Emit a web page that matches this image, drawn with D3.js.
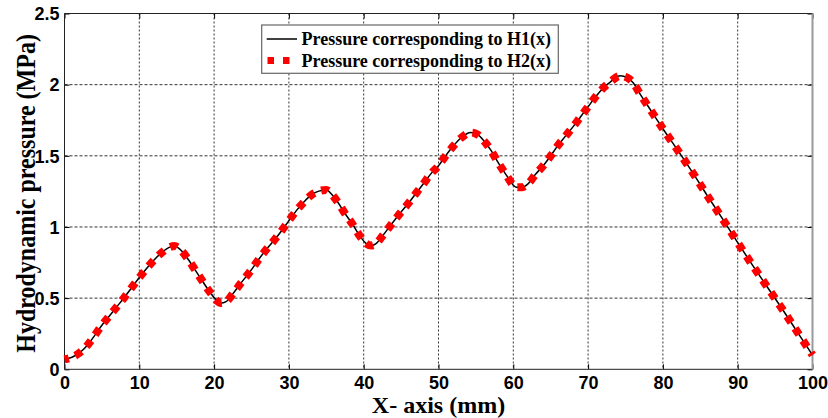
<!DOCTYPE html>
<html>
<head>
<meta charset="utf-8">
<script src="https://cdn.jsdelivr.net/npm/d3@7"></script>
<style>
  body { margin: 0; background: #fff; }
  svg { display: block; font-family: "Liberation Serif", "Times New Roman", serif; }
  .tick-label { font-size: 18px; font-weight: bold; fill: #000; }
  .axis-label { font-size: 24px; font-weight: bold; fill: #000; }
  .legend-text { font-size: 18px; font-weight: bold; fill: #000; }
</style>
</head>
<body>
<div id="chart"></div>
<script>
// values
const xValues = [0, 1, 2, 3, 4, 5, 6, 7, 8, 9, 10, 11, 12, 13, 14, 14.7, 15.5, 16.5, 17.5, 18.5, 19.5, 20.3, 20.9, 21.6, 22.5, 23.5,
  25, 26, 27, 28, 29, 30, 31, 32, 33, 34, 35, 35.8, 36.5, 37.5, 38.5, 39.5, 40.3, 41, 41.7, 42.5, 43.5,
  45, 46, 47, 48, 49, 50, 51, 52, 53, 54.3, 55.2, 56, 57, 58, 59, 60.4, 61.2, 62, 63,
  64, 65, 66, 67, 68, 69, 70, 71, 72, 73, 74.3, 75.2, 76, 77, 78, 80, 82, 84, 86, 88, 90, 92, 94, 96, 98, 100];
const pressureH1 = [0.07, 0.085, 0.115, 0.165, 0.235, 0.31, 0.375, 0.44, 0.505, 0.575, 0.645, 0.71, 0.77, 0.82, 0.857, 0.866, 0.84, 0.775, 0.695, 0.615, 0.538, 0.485, 0.465, 0.475, 0.53, 0.6,
  0.7, 0.775, 0.843, 0.905, 0.972, 1.045, 1.115, 1.175, 1.225, 1.252, 1.26, 1.225, 1.177, 1.095, 1.02, 0.935, 0.885, 0.87, 0.885, 0.936, 1.005,
  1.105, 1.168, 1.237, 1.305, 1.375, 1.43, 1.503, 1.57, 1.625, 1.664, 1.65, 1.61, 1.54, 1.45, 1.37, 1.28, 1.28, 1.305, 1.372,
  1.43, 1.5, 1.575, 1.64, 1.705, 1.775, 1.845, 1.915, 1.975, 2.02, 2.062, 2.05, 2.015, 1.93, 1.85, 1.69, 1.538, 1.38, 1.215, 1.055, 0.89, 0.73, 0.575, 0.42, 0.26, 0.1];
// the two curves lie on top of each other
const pressureH2 = pressureH1.slice();

const xTicks = [0, 10, 20, 30, 40, 50, 60, 70, 80, 90, 100];
const yTicks = [0, 0.5, 1, 1.5, 2, 2.5];
const yTickLabels = ["0", "0.5", "1", "1.5", "2", "2.5"];
const legendLabels = ["Pressure corresponding to H1(x)", "Pressure corresponding to H2(x)"];

const width = 828, height = 418;
const margin = { left: 64.5, right: 15.5, top: 13.5, bottom: 48.7 };
const plotW = width - margin.left - margin.right;
const plotH = height - margin.top - margin.bottom;

const svg = d3.select('#chart').append('svg')
  .attr('width', width)
  .attr('height', height);

const g = svg.append('g')
  .attr('transform', `translate(${margin.left},${margin.top})`);

const xScale = d3.scaleLinear().domain([0, 100]).range([0, plotW]);
const yScale = d3.scaleLinear().domain([0, 2.5]).range([plotH, 0]);

// grid
g.selectAll('.vgrid')
  .data(xTicks.slice(1, -1))
  .join('line')
  .attr('x1', d => xScale(d)).attr('x2', d => xScale(d))
  .attr('y1', 0).attr('y2', plotH)
  .attr('stroke', '#333').attr('stroke-width', 1)
  .attr('stroke-dasharray', '2,2');

g.selectAll('.hgrid')
  .data(yTicks.slice(1, -1))
  .join('line')
  .attr('x1', 0).attr('x2', plotW)
  .attr('y1', d => yScale(d)).attr('y2', d => yScale(d))
  .attr('stroke', '#333').attr('stroke-width', 1)
  .attr('stroke-dasharray', '3,2');

// axes with inward ticks
const xAxis = g.append('g')
  .attr('transform', `translate(0,${plotH})`)
  .call(d3.axisBottom(xScale).tickValues(xTicks).tickSize(-5).tickPadding(11));
const yAxis = g.append('g')
  .call(d3.axisLeft(yScale).tickValues(yTicks).tickSize(-5).tickPadding(5)
    .tickFormat((d, i) => yTickLabels[i]));
[xAxis, yAxis].forEach(a => {
  a.select('.domain').remove();
  a.selectAll('.tick line').attr('stroke', '#000');
  a.selectAll('.tick text').attr('class', 'tick-label').attr('font-family', null).attr('font-size', null);
});
xAxis.selectAll('.tick text').attr('dy', '0.5em');
yAxis.selectAll('.tick text').attr('dy', '0.35em');

// top and right ticks
g.append('g')
  .call(d3.axisTop(xScale).tickValues(xTicks).tickSize(-5).tickFormat(''))
  .call(a => a.select('.domain').remove());
g.append('g')
  .attr('transform', `translate(${plotW},0)`)
  .call(d3.axisRight(yScale).tickValues(yTicks).tickSize(-5).tickFormat(''))
  .call(a => a.select('.domain').remove());

// frame
g.append('line').attr('x1', 0).attr('x2', plotW).attr('y1', 0).attr('y2', 0).attr('stroke', '#222');
g.append('line').attr('x1', 0).attr('x2', plotW).attr('y1', plotH).attr('y2', plotH).attr('stroke', '#222');
g.append('line').attr('x1', 0).attr('x2', 0).attr('y1', 0).attr('y2', plotH).attr('stroke', '#222');
g.append('line').attr('x1', plotW).attr('x2', plotW).attr('y1', 0).attr('y2', plotH)
  .attr('stroke', '#999').attr('stroke-width', 2);

// curves
const line = d3.line()
  .x(d => xScale(d[0]))
  .y(d => yScale(d[1]))
  .curve(d3.curveMonotoneX);

const dataH1 = xValues.map((x, i) => [x, pressureH1[i]]);
const dataH2 = xValues.map((x, i) => [x, pressureH2[i]]);

g.append('path')
  .datum(dataH1)
  .attr('d', line)
  .attr('fill', 'none')
  .attr('stroke', '#000')
  .attr('stroke-width', 1.5);

g.append('path')
  .datum(dataH2)
  .attr('d', line)
  .attr('fill', 'none')
  .attr('stroke', '#ff0000')
  .attr('stroke-width', 8)
  .attr('stroke-dasharray', '7.5,7')
  .attr('stroke-dashoffset', 3);

// axis labels
svg.append('text')
  .attr('class', 'axis-label')
  .attr('x', margin.left + plotW / 2)
  .attr('y', 413)
  .attr('text-anchor', 'middle')
  .text('X- axis (mm)');

svg.append('text')
  .attr('class', 'axis-label')
  .attr('transform', `translate(25,${margin.top + plotH / 2 + 2}) scale(1.15,1) rotate(-90)`)
  .attr('text-anchor', 'middle')
  .attr('dy', '0.35em')
  .text('Hydrodynamic pressure (MPa)');

// legend
const legend = svg.append('g');
legend.append('rect')
  .attr('x', 261.7).attr('y', 25)
  .attr('width', 296.6).attr('height', 48.3)
  .attr('fill', '#fff')
  .attr('stroke', '#666').attr('stroke-width', 1.2);

legend.append('line')
  .attr('x1', 266.7).attr('x2', 297).attr('y1', 39).attr('y2', 39)
  .attr('stroke', '#000').attr('stroke-width', 1.5);
legend.append('line')
  .attr('x1', 267.5).attr('x2', 290).attr('y1', 60.5).attr('y2', 60.5)
  .attr('stroke', '#ff0000').attr('stroke-width', 7)
  .attr('stroke-dasharray', '6.5,9');

legend.selectAll('.legend-text')
  .data(legendLabels)
  .join('text')
  .attr('class', 'legend-text')
  .attr('x', 301.5)
  .attr('y', (d, i) => 39 + i * 21.5)
  .attr('dy', '0.35em')
  .text(d => d);
</script>
</body>
</html>
